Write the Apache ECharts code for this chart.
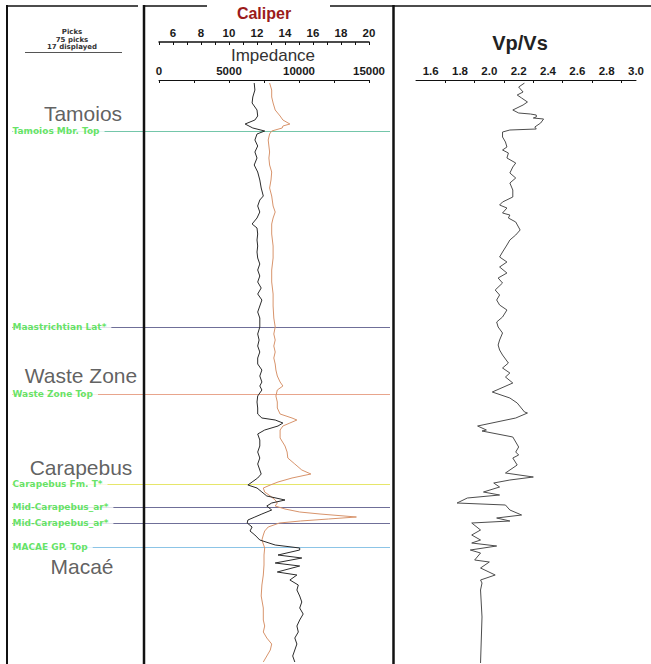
<!DOCTYPE html>
<html>
<head>
<meta charset="utf-8">
<title>Well log - Caliper, Impedance, Vp/Vs</title>
<script src="https://cdn.jsdelivr.net/npm/echarts@6/dist/echarts.min.js"></script>
<style>
html, body { margin: 0; padding: 0; background: #fff; }
#chart { width: 651px; height: 664px; }
</style>
</head>
<body>
<div id="chart"></div>
<script>
// depths are metres below the top of the displayed interval (datum at depthTop)
const depthTop = 2600
const depthSpan = 581

// impedance curve (black)
const impDepth = [0,7,14,20,27,33,37,41,45,48,51,57,63,69,75,82,89,97,105,113,117,123,129,135,141,145,151,157,163,169,175,181,187,193,199,205,211,217,223,229,235,244,251,257,263,269,275,281,287,293,299,303,307,313,319,325,331,335,337,340,343,347,351,357,363,369,375,381,387,391,395,399,402,405,409,413,417,420,423,427,431,434,437,440,444,448,452,457,462,465,467,472,475,480,483,489,492,497,502,507,513,519,525,531,537,543,549,555,561,567,573,579]
const impValues = [6800,6850,6700,6650,7000,7050,6850,6150,6700,7550,7000,6850,7050,6850,7000,6800,7050,7200,7300,7450,7200,7050,7200,7000,6650,7000,7050,7000,7050,7000,7050,7200,7050,7200,7050,7300,7050,7350,7200,7050,7200,7200,7050,7150,7050,7200,7050,7050,7350,7200,7350,7200,7350,7050,7000,7050,7050,7350,8300,8850,8500,7550,7050,7200,7200,7050,7200,7050,7200,7300,7050,6650,6350,7000,7350,7700,9000,8050,7700,8050,7350,6850,6350,6300,6650,6500,6850,7200,8300,10050,10050,8500,10200,8300,10050,8450,9850,9350,9950,9850,10050,10200,10050,10300,10050,9850,9950,9700,9850,9700,9550,9700]

// caliper curve (orange)
const calDepth = [0,7,14,20,27,33,37,41,43,45,48,51,57,63,69,75,82,89,97,105,113,123,129,135,141,151,163,175,187,199,211,223,235,244,251,257,263,269,275,281,287,293,299,303,307,313,319,325,331,335,337,340,343,347,355,363,369,375,381,387,391,395,399,402,405,409,413,417,420,423,426,429,431,434,436,438,440,444,448,452,457,465,472,482,492,502,513,525,537,543,549,555,561,567,573,579]
const calValues = [12.9,13.05,13.05,13.15,13.3,13.65,13.85,14.35,13.85,13.8,13.05,12.9,12.8,12.85,12.9,12.85,12.9,13.05,13.0,12.9,13.05,13.15,13.3,13.15,13.05,13.05,13.15,13.15,13.05,13.05,13.15,13.15,13.2,13.3,13.2,13.3,13.2,13.3,13.2,13.3,13.35,13.45,13.65,13.85,13.45,13.35,13.45,13.45,13.65,14.5,14.85,14.35,13.85,13.65,13.65,14.0,14.15,14.2,14.7,15.2,15.85,14.5,13.5,12.95,12.45,12.55,12.95,13.3,13.45,13.3,14.0,15.05,16.5,19.1,17.1,15.1,13.6,12.8,12.55,12.45,12.35,12.55,12.5,12.5,12.45,12.35,12.3,12.45,12.45,12.55,12.45,12.7,13.05,12.95,12.7,12.45]

// Vp/Vs curve
const vpvsDepth = [0,4,9,12,15,19,22,27,30,31,32,34,35,36,40,44,46,47,49,54,59,64,67,70,75,80,84,90,95,100,107,114,119,122,125,130,132,135,139,147,152,157,162,169,174,179,184,190,195,200,207,212,217,222,227,234,239,244,250,257,262,267,272,280,285,290,294,300,309,315,320,329,330,335,343,347,348,354,359,364,369,372,375,382,390,394,397,400,404,409,412,415,420,422,427,432,435,438,440,447,452,457,460,463,467,470,477,479,485,492,497,500,507,534,580]
const vpvsValues = [2.24,2.2,2.23,2.19,2.22,2.26,2.23,2.16,2.2,2.28,2.32,2.32,2.3,2.37,2.35,2.31,2.32,2.14,2.09,2.09,2.11,2.12,2.09,2.13,2.12,2.18,2.16,2.14,2.18,2.14,2.16,2.16,2.09,2.07,2.12,2.09,2.14,2.13,2.18,2.21,2.18,2.14,2.12,2.09,2.07,2.12,2.07,2.12,2.06,2.09,2.04,2.07,2.05,2.07,2.12,2.09,2.05,2.06,2.09,2.07,2.06,2.07,2.09,2.13,2.09,2.14,2.11,2.16,2.02,2.14,2.19,2.24,2.26,2.18,1.92,1.98,1.95,2.16,2.18,2.2,2.18,2.2,2.16,2.19,2.11,2.3,2.14,2.03,2.07,1.96,2.07,1.85,1.78,2.11,2.14,2.22,2.05,2.14,1.88,1.94,1.88,1.94,1.88,2.05,1.87,1.94,1.9,2.0,1.94,2.04,1.94,1.95,1.94,1.95,1.94]

// formation tops (picks)
const topNames = ['Tamoios Mbr. Top', 'Maastrichtian Lat*', 'Waste Zone Top', 'Carapebus Fm. T*', 'Mid-Carapebus_ar*', 'Mid-Carapebus_ar*', 'MACAE GP. Top']
const topDepths = [48, 244, 311, 401, 424, 440, 464]

// formation names
const formationNames = ['Tamoios', 'Waste Zone', 'Carapebus', 'Macaé']
const formationDepths = [30, 292, 384, 483]

// axis ticks / labels
const calTicks = [5,6,7,8,9,10,11,12,13,14,15,16,17,18,19,20]
const calLabels = [6,8,10,12,14,16,18,20]
const impTicks = [0,2500,5000,7500,10000,12500,15000]
const impLabels = [0,5000,10000,15000]
const vpvsTicks = [1.7,1.9,2.1,2.3,2.5,2.7,2.9]
const vpvsLabels = [1.6,1.8,2.0,2.2,2.4,2.6,2.8,3.0]

// styling (not data)
const topColors = ['#74c6aa', '#6f6f98', '#e8a58c', '#e6e66a', '#6f6f98', '#6f6f98', '#8cc4e6']
const formationX = [71, 69, 69, 70]
const sans = '"Liberation Sans", Arial, sans-serif'
// the caliper scale sits 41px above the impedance scale, so its grid starts higher
const calHeadroom = 41

const md = (d) => depthTop + d

const chart = echarts.init(document.getElementById('chart'), null, { renderer: 'svg' })

const topAxis = (grid, min, max, ticks, labels, fmt, offset, name, nameGap, nameStyle, lineWidth) => ({
  type: 'value',
  gridIndex: grid,
  position: 'top',
  offset: offset,
  min: min,
  max: max,
  name: name,
  nameLocation: 'middle',
  nameGap: nameGap,
  nameMoveOverlap: false,
  nameTextStyle: nameStyle,
  axisLine: { show: true, onZero: false, lineStyle: { color: '#111111', width: lineWidth, opacity: 1 } },
  axisTick: { show: true, inside: true, length: 3, customValues: ticks, lineStyle: { color: '#111111', width: 1, opacity: 1 } },
  axisLabel: { customValues: labels, formatter: fmt, margin: 3, fontFamily: sans, fontWeight: 'bold', fontSize: 11.5, color: '#1a1a1a' },
  splitLine: { show: false }
})

const depthAxis = (grid, headroom) => ({
  type: 'value', gridIndex: grid, inverse: true,
  min: md(-headroom), max: md(depthSpan),
  show: false, axisLine: { onZero: false }, splitLine: { show: false }
})

const headerText = (text, y) => ({
  type: 'text', z: 20, x: 72, y: y,
  style: { text: text, font: 'bold 7px "DejaVu Sans"', fill: '#333', textAlign: 'center', textVerticalAlign: 'middle', align: 'center', verticalAlign: 'middle' }
})

const frameLine = (x1, y1, x2, y2, w) => ({
  type: 'line', z: 20, shape: { x1: x1, y1: y1, x2: x2, y2: y2 }, style: { stroke: '#111', lineWidth: w }
})

const option = {
  animation: false,
  backgroundColor: '#fff',
  grid: [
    { left: 12, top: 83, width: 378, height: 581 },
    { left: 159, top: 83, width: 210, height: 581 },
    { left: 416, top: 83, width: 220, height: 581 },
    { left: 159, top: 83 - calHeadroom, width: 210, height: 581 + calHeadroom }
  ],
  xAxis: [
    { type: 'value', gridIndex: 0, min: 0, max: 378, show: false, axisLine: { onZero: false }, splitLine: { show: false } },
    topAxis(3, 5, 20, calTicks, calLabels, (v) => String(v), 0, 'Caliper', 21,
      { fontFamily: sans, fontWeight: 'bold', fontSize: 16, color: '#9b1b1b' }, 1.5),
    topAxis(1, 0, 15000, impTicks, impLabels, (v) => String(v), 3, 'Impedance', 16,
      { fontFamily: sans, fontSize: 17, color: '#333', padding: [0, 0, 0, 18] }, 1),
    topAxis(2, 1.5, 3.0, vpvsTicks, vpvsLabels, (v) => v.toFixed(1), 3, 'Vp/Vs', 27,
      { fontFamily: sans, fontWeight: 'bold', fontSize: 20, color: '#222', padding: [0, 12, 0, 0] }, 1)
  ],
  yAxis: [depthAxis(0, 0), depthAxis(1, 0), depthAxis(2, 0), depthAxis(3, calHeadroom)],
  series: [
    {
      name: 'tops',
      type: 'scatter',
      xAxisIndex: 0,
      yAxisIndex: 0,
      data: [],
      z: 1,
      silent: true,
      markLine: {
        silent: true,
        z: 1,
        symbol: 'none',
        label: { show: false },
        data: topDepths.map((d, i) => ({ yAxis: md(d), lineStyle: { color: topColors[i], width: 1, type: 'solid' } }))
      }
    },
    {
      name: 'Caliper',
      type: 'line',
      xAxisIndex: 1,
      yAxisIndex: 3,
      symbol: 'none',
      z: 3,
      lineStyle: { color: '#d8946c', width: 1 },
      data: calDepth.map((d, i) => [calValues[i], md(d)])
    },
    {
      name: 'Impedance',
      type: 'line',
      xAxisIndex: 2,
      yAxisIndex: 1,
      symbol: 'none',
      z: 3,
      lineStyle: { color: '#2b2b2b', width: 1 },
      data: impDepth.map((d, i) => [impValues[i], md(d)])
    },
    {
      name: 'Vp/Vs',
      type: 'line',
      xAxisIndex: 3,
      yAxisIndex: 2,
      symbol: 'none',
      z: 3,
      lineStyle: { color: '#4d4d4d', width: 1 },
      data: vpvsDepth.map((d, i) => [vpvsValues[i], md(d)])
    },
    {
      name: 'pick labels',
      type: 'scatter',
      xAxisIndex: 0,
      yAxisIndex: 0,
      symbolSize: 1,
      z: 6,
      silent: true,
      itemStyle: { color: 'rgba(0,0,0,0)' },
      label: {
        show: true,
        position: 'right',
        distance: 0,
        formatter: (p) => topNames[p.dataIndex],
        fontFamily: '"DejaVu Sans", sans-serif',
        fontWeight: 'bold',
        fontSize: 9,
        lineHeight: 8,
        color: '#3edc3e',
        backgroundColor: '#fff',
        padding: [0, 5, 0, 0]
      },
      data: topDepths.map((d) => [0, md(d)])
    },
    {
      name: 'formations',
      type: 'scatter',
      xAxisIndex: 0,
      yAxisIndex: 0,
      symbolSize: 1,
      z: 6,
      silent: true,
      itemStyle: { color: 'rgba(0,0,0,0)' },
      label: {
        show: true,
        position: 'inside',
        formatter: (p) => formationNames[p.dataIndex],
        fontFamily: sans,
        fontSize: 21,
        lineHeight: 18,
        color: '#383838'
      },
      data: formationDepths.map((d, i) => [formationX[i], md(d)])
    }
  ],
  graphic: [
    // track frames
    frameLine(7, 5, 7, 664, 2),
    frameLine(7, 6, 138, 6, 1.5),
    frameLine(144, 5, 144, 664, 2.5),
    frameLine(144, 6, 207, 6, 1.5),
    frameLine(330, 6, 393, 6, 1.5),
    frameLine(393.5, 5, 393.5, 664, 2.5),
    frameLine(393, 6, 651, 6, 1.5),
    // picks header
    headerText('Picks', 32),
    headerText('75 picks', 39.5),
    headerText('17 displayed', 47),
    { type: 'line', z: 20, shape: { x1: 25, y1: 52.5, x2: 122, y2: 52.5 }, style: { stroke: '#555', lineWidth: 1 } }
  ]
}

chart.setOption(option)
</script>
</body>
</html>
